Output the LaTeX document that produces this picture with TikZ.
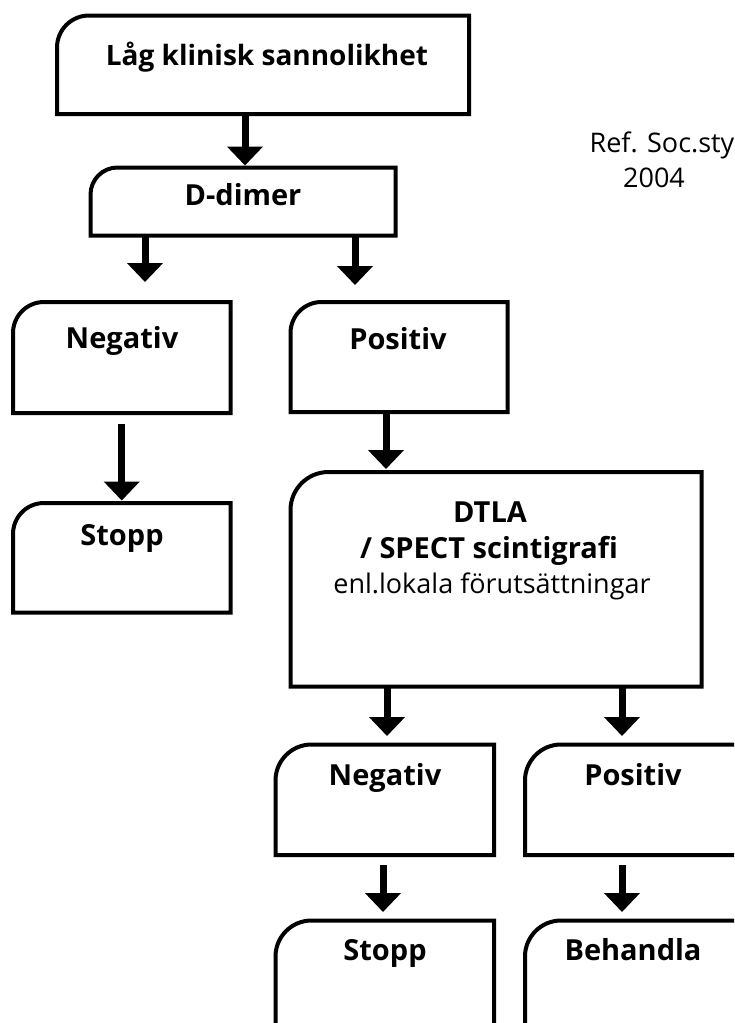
\documentclass[tikz,border=0pt]{standalone}
\usepackage{fontspec}
\setmainfont{Open Sans}
\usetikzlibrary{arrows.meta}
\tikzset{
  box/.style={rectangle, inner sep=0pt, outer sep=0pt, draw=none},
  frame/.style={line width=4pt, line join=miter},
  arr/.style={line width=7pt, -{Triangle[width=35pt,length=19pt]}},
  bt/.style={anchor=base, inner sep=0pt, font=\bfseries\fontsize{29}{33}\selectfont},
  rt/.style={anchor=base, inner sep=0pt, font=\fontsize{27}{31}\selectfont},
}
\newcommand\rframe[2]{%
  \draw[frame] (#1.south west) -- ([yshift=-#2pt]#1.north west)
    .. controls ([yshift=-0.448*#2pt]#1.north west) and ([xshift=0.448*#2pt]#1.north west) ..
    ([xshift=#2pt]#1.north west) -- (#1.north east) -- (#1.south east) -- cycle;}
\begin{document}
\begin{tikzpicture}[x=1pt,y=-1pt]
\useasboundingbox (0,0) rectangle (734,1023);
\fill[white] (0,0) rectangle (734,1023);
\clip (0,0) rectangle (734,1023);
% boxes
\node[box, minimum width=412pt, minimum height=98.5pt] (lag) at (263,64.75) {};
\node[box, minimum width=305pt, minimum height=68pt] (ddimer) at (243,201.5) {};
\node[box, minimum width=217.5pt, minimum height=111pt] (neg1) at (121.75,357.5) {};
\node[box, minimum width=217pt, minimum height=110pt] (pos1) at (399,357) {};
\node[box, minimum width=217.5pt, minimum height=109.5pt] (stopp1) at (121.75,557.75) {};
\node[box, minimum width=411pt, minimum height=214.5pt] (dtla) at (496,579.25) {};
\node[box, minimum width=218.5pt, minimum height=110.5pt] (neg2) at (384.75,799.75) {};
\node[box, minimum width=235pt, minimum height=110.5pt] (pos2) at (642.5,799.75) {};
\node[box, minimum width=218.5pt, minimum height=129.5pt] (stopp2) at (384.75,985.25) {};
\node[box, minimum width=235pt, minimum height=129.5pt] (beh) at (642.5,985.25) {};
\rframe{lag}{32}
\rframe{ddimer}{27}
\rframe{neg1}{31}
\rframe{pos1}{31}
\rframe{stopp1}{31}
\rframe{dtla}{38}
\rframe{neg2}{36}
\rframe{pos2}{36}
\rframe{stopp2}{36}
\rframe{beh}{36}
% texts
\node[bt, font=\bfseries\fontsize{28}{32}\selectfont] (t1) at (267,65) {Låg klinisk sannolikhet};
\node[bt] (t2) at (243,205) {D-dimer};
\node[bt] (t3) at (122,348) {Negativ};
\node[bt] (t4) at (398,349) {Positiv};
\node[bt] (t5) at (122,545) {Stopp};
\node[bt] (t6) at (490,522) {DTLA};
\node[bt] (t7) at (489,558) {/ SPECT scintigrafi};
\node[rt] (t8) at (492,593) {enl.lokala förutsättningar};
\node[bt] (t9) at (385,785) {Negativ};
\node[bt] (t10) at (633,785) {Positiv};
\node[bt] (t11) at (385,960) {Stopp};
\node[bt] (t12) at (633,960) {Behandla};
\node[rt] (r1) at (662,152) {Ref. Soc.sty};
\node[rt] (r2) at (654,187) {2004};
% arrows
\draw[arr] ([xshift=-18pt]lag.south) -- ([xshift=2pt,yshift=2pt]ddimer.north);
\draw[arr] ([xshift=-98pt]ddimer.south) -- ([xshift=23.25pt,yshift=20pt]neg1.north);
\draw[arr] ([xshift=112pt]ddimer.south) -- ([xshift=-44pt,yshift=17pt]pos1.north);
\draw[arr] ([yshift=-11pt]neg1.south) -- ([yshift=2.5pt]stopp1.north);
\draw[arr] ([xshift=-13pt]pos1.south) -- ([xshift=-110pt,yshift=3pt]dtla.north);
\draw[arr] ([xshift=-109pt]dtla.south) -- ([xshift=2.25pt,yshift=8.5pt]neg2.north);
\draw[arr] ([xshift=126pt]dtla.south) -- ([xshift=-20.5pt,yshift=8.5pt]pos2.north);
\draw[arr] ([xshift=-1.75pt,yshift=-10pt]neg2.south) -- ([xshift=-1.75pt,yshift=8.5pt]stopp2.north);
\draw[arr] ([xshift=-20.5pt,yshift=-10pt]pos2.south) -- ([xshift=-20.5pt,yshift=8.5pt]beh.north);
\end{tikzpicture}
\end{document}
